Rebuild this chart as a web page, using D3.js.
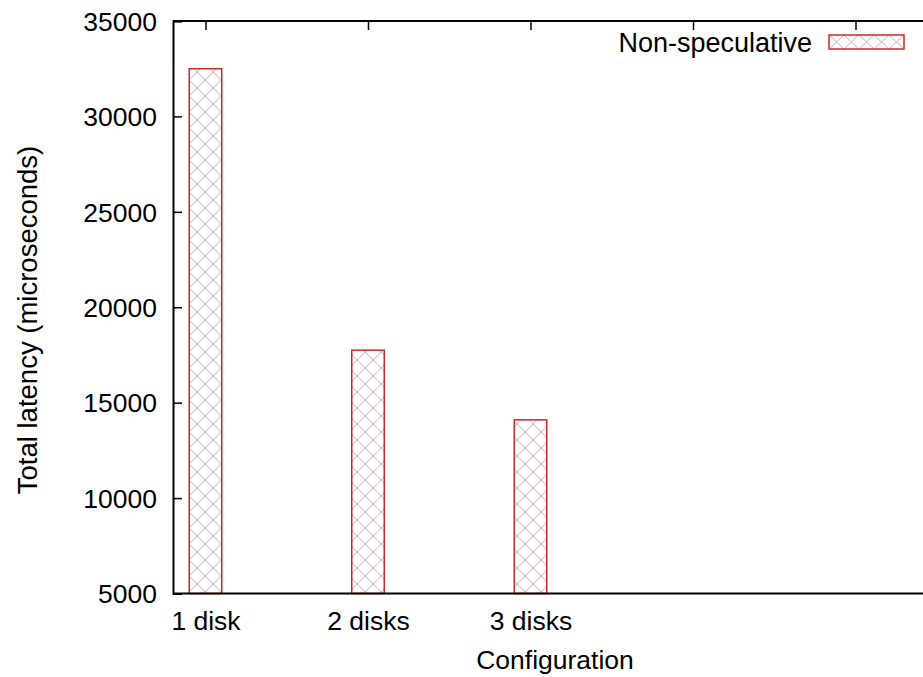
<!DOCTYPE html>
<html>
<head>
<meta charset="utf-8">
<script src="https://cdn.jsdelivr.net/npm/d3@7"></script>
<style>
  html, body { margin: 0; padding: 0; background: #fff; }
  svg text { font-family: "Liberation Sans", Arial, Helvetica, sans-serif; fill: #000; }
</style>
</head>
<body>
<div id="chart"></div>
<script>
// Chart data
const configs = ["1 disk", "2 disks", "3 disks"];
const latency = [32500, 17750, 14100];
const yTicks = [5000, 10000, 15000, 20000, 25000, 30000, 35000];
const topTicks = [0, 1, 2, 3, 4];
const seriesName = "Non-speculative";

const width = 923;
const height = 677;
const margin = { top: 21, right: 0, bottom: 84, left: 173 };

const svg = d3.select('#chart')
    .append('svg')
    .attr('width', width)
    .attr('height', height);

// Crosshatch patterns
const defs = svg.append('defs');
function addHatch(id, w, h, x0, y0) {
    const p = defs.append('pattern')
        .attr('id', id)
        .attr('patternUnits', 'userSpaceOnUse')
        .attr('width', w)
        .attr('height', h)
        .attr('x', x0)
        .attr('y', y0);
    p.append('rect').attr('width', w).attr('height', h).attr('fill', '#fff');
    p.append('path')
        .attr('d', `M0,0L${w},${h}M${w},0L0,${h}`)
        .attr('stroke', '#d2b0b0')
        .attr('stroke-width', 1)
        .attr('fill', 'none');
}

// Scales (the x range runs past the right edge, as in the reference)
const x = d3.scaleLinear()
    .domain([-0.2, 4.5])
    .range([margin.left, margin.left + 4.7 * 162.5]);

const y = d3.scaleLinear()
    .domain([5000, 35000])
    .range([height - margin.bottom + 0.5, margin.top]);

addHatch('hatch', 16, 16, x(-0.1), 0);

// Bars
svg.selectAll('.bar')
    .data(latency)
    .enter()
    .append('rect')
    .attr('class', 'bar')
    .attr('x', (d, i) => x(i - 0.1))
    .attr('y', d => y(d))
    .attr('width', x(0.1) - x(-0.1))
    .attr('height', d => y(5000) - y(d))
    .attr('fill', 'url(#hatch)')
    .attr('stroke', '#cc2a2a')
    .attr('stroke-width', 1.5);

// Y axis
const yAxis = svg.append('g')
    .attr('transform', `translate(${margin.left},0)`)
    .call(d3.axisLeft(y).tickValues(yTicks).tickSize(-9).tickPadding(16).tickFormat(d3.format('d')));
yAxis.select('.domain').attr('stroke-width', 2);
yAxis.selectAll('.tick line').attr('stroke-width', 1.5);
yAxis.selectAll('.tick text').style('font-size', '26.5px').attr('dy', '0.35em');

// Top border with inward ticks
const topAxis = svg.append('g')
    .attr('transform', `translate(0,${margin.top})`)
    .call(d3.axisTop(x).tickValues(topTicks).tickSize(-9).tickFormat(''));
topAxis.select('.domain').attr('stroke-width', 2).attr('d', `M${margin.left},0H${width}`);
topAxis.selectAll('.tick line').attr('stroke-width', 1.5);

// Bottom axis with category labels
const xAxis = svg.append('g')
    .attr('transform', `translate(0,${y(5000)})`)
    .call(d3.axisBottom(x).tickValues(configs.map((c, i) => i)).tickSize(0).tickPadding(17)
        .tickFormat(i => configs[i]));
xAxis.select('.domain').attr('stroke-width', 2).attr('d', `M${margin.left},0H${width}`);
xAxis.selectAll('.tick text').style('font-size', '26.5px').attr('dy', '0.75em');

// Axis titles
svg.append('text')
    .attr('x', 555)
    .attr('y', 669)
    .attr('text-anchor', 'middle')
    .style('font-size', '26.5px')
    .text('Configuration');

svg.append('text')
    .attr('transform', 'translate(37,320) rotate(-90)')
    .attr('text-anchor', 'middle')
    .style('font-size', '27.5px')
    .text('Total latency (microseconds)');

// Legend
const legend = svg.append('g').attr('class', 'legend');
legend.append('text')
    .attr('x', 812)
    .attr('y', 52)
    .attr('text-anchor', 'end')
    .style('font-size', '27px')
    .text(seriesName);
addHatch('hatchKey', 15, 14, 829, 35);
legend.append('rect')
    .attr('x', 829)
    .attr('y', 35)
    .attr('width', 75)
    .attr('height', 14)
    .attr('fill', 'url(#hatchKey)')
    .attr('stroke', '#cc2a2a')
    .attr('stroke-width', 1.5);
</script>
</body>
</html>
